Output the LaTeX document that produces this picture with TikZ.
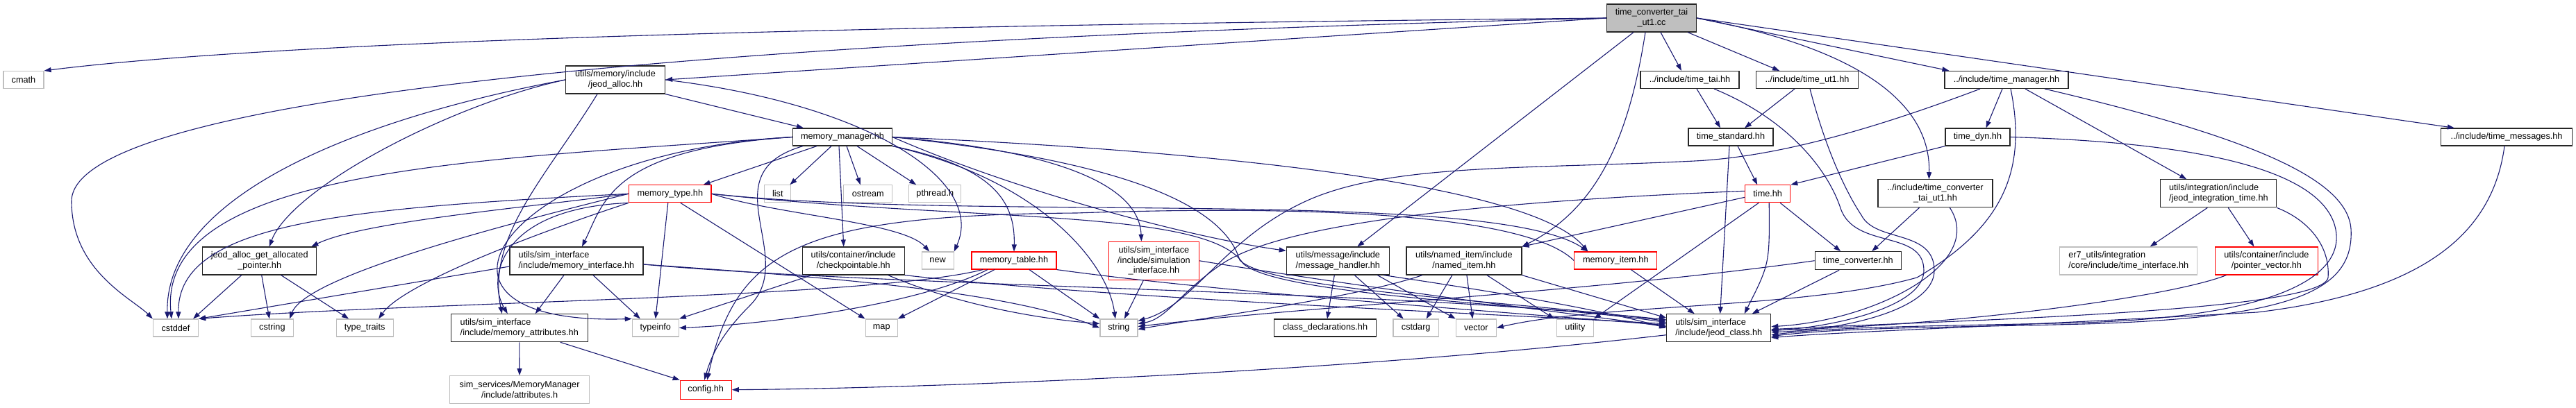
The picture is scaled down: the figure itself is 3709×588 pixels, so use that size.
\documentclass[tikz,border=0pt]{standalone}
\usepackage{fontspec}
\setmainfont{Liberation Sans}
\usetikzlibrary{arrows.meta}
\definecolor{edgeblue}{HTML}{191970}
\definecolor{rootfill}{HTML}{BFBFBF}
\definecolor{sysgray}{HTML}{BFBFBF}
\newcommand{\depfont}{\fontsize{12.7pt}{14.7pt}\selectfont}

\begin{document}
\begin{tikzpicture}[
        x=1pt, y=1pt,
        every node/.style={draw, rectangle, inner sep=0pt, align=center, font=\depfont, line width=1.2pt},
        box/.style 2 args={minimum width=#1pt, minimum height=#2pt},
        blackn/.style={draw=black!85},
        redn/.style={draw=red},
        grayn/.style={draw=sysgray},
        rootn/.style={draw=black!85, fill=rootfill},
        dep/.style={draw=edgeblue, line width=1.1pt, -{Triangle[length=10pt,width=7pt]}},
    ]
    \useasboundingbox (0,0) rectangle (3709,-588);

    % level 0 and 1
    \node[rootn, box={129}{40}] (root) at (2378,-26) {time\_converter\_tai\\\_ut1.cc};
    \node[grayn, box={58}{25}] (cmath) at (34,-115) {cmath};
    \node[blackn, box={143}{40}] (jeodalloc) at (886,-115) {utils/memory/include\\/jeod\_alloc.hh};
    \node[blackn, box={142}{25}] (tai) at (2433,-115) {../include/time\_tai.hh};
    \node[blackn, box={147}{25}] (ut1) at (2602,-115) {../include/time\_ut1.hh};
    \node[blackn, box={178}{25}] (tman) at (2889,-115) {../include/time\_manager.hh};

    % level 2
    \node[blackn, box={143}{25}] (memmgr) at (1213,-197.5) {memory\_manager.hh};
    \node[blackn, box={122}{25}] (tstd) at (2492,-197.5) {time\_standard.hh};
    \node[blackn, box={93}{25}] (tdyn) at (2847.5,-197.5) {time\_dyn.hh};
    \node[blackn, box={189}{25}] (tmsg) at (3609,-197.5) {../include/time\_messages.hh};

    % level 3
    \node[redn, box={118.5}{25}] (memtype) at (964.8,-279.3) {memory\_type.hh};
    \node[grayn, box={38}{25}] (list) at (1119.8,-279.3) {list};
    \node[grayn, box={70}{25}] (ostream) at (1249.8,-279.3) {ostream};
    \node[grayn, box={75}{25}] (pthread) at (1346.3,-279.3) {pthread.h};
    \node[redn, box={65}{25}] (timehh) at (2545.2,-279.3) {time.hh};
    \node[blackn, box={165}{40}] (tcth) at (2786.4,-278.8) {../include/time\_converter\\\_tai\_ut1.hh};
    \node[blackn, box={167}{40}, align=left] (jit) at (3194.3,-278.8) {utils/integration/include\\/jeod\_integration\_time.hh};

    % level 4
    \node[blackn, box={164}{40}] (jagap) at (373.7,-376) {jeod\_alloc\_get\_allocated\\\_pointer.hh};
    \node[blackn, box={192}{40}, align=left] (memif) at (830,-376) {utils/sim\_interface\\/include/memory\_interface.hh};
    \node[blackn, box={147}{40}] (ckpt) at (1228.7,-376) {utils/container/include\\/checkpointable.hh};
    \node[grayn, box={46}{25}] (new) at (1350.1,-375.5) {new};
    \node[redn, box={122}{25}] (memtab) at (1460,-375.5) {memory\_table.hh};
    \node[redn, box={130}{55}] (siminf) at (1661.4,-375.8) {utils/sim\_interface\\/include/simulation\\\_interface.hh};
    \node[blackn, box={148}{40}] (msgh) at (1926.3,-376) {utils/message/include\\/message\_handler.hh};
    \node[blackn, box={166}{40}] (nitem) at (2107.9,-376) {utils/named\_item/include\\/named\_item.hh};
    \node[redn, box={119}{25}] (memitem) at (2326.3,-375.5) {memory\_item.hh};
    \node[blackn, box={124}{26}] (tconv) at (2675.2,-375.7) {time\_converter.hh};
    \node[grayn, box={198}{40}, align=left] (er7) at (3064.7,-376) {er7\_utils/integration\\/core/include/time\_interface.hh};
    \node[redn, box={148}{40}] (ptrvec) at (3263.4,-376) {utils/container/include\\/pointer\_vector.hh};

    % level 5
    \node[grayn, box={65}{25}] (cstddef) at (253,-472.5) {cstddef};
    \node[grayn, box={61}{25}] (cstring) at (391.9,-472.5) {cstring};
    \node[grayn, box={82}{25}] (typetraits) at (525.1,-472.5) {type\_traits};
    \node[blackn, box={197}{40}, align=left] (memattr) at (747.8,-472.7) {utils/sim\_interface\\/include/memory\_attributes.hh};
    \node[grayn, box={67}{25}] (typeinfo) at (943.8,-472.5) {typeinfo};
    \node[grayn, box={46}{25}] (map) at (1269.2,-472.5) {map};
    \node[grayn, box={54}{25}] (string) at (1610.9,-472.5) {string};
    \node[blackn, box={147.5}{25}] (classdecl) at (1908,-472.5) {class\_declarations.hh};
    \node[grayn, box={65.5}{25}] (cstdarg) at (2038.7,-472.5) {cstdarg};
    \node[grayn, box={58}{25}] (vector) at (2125.3,-472.5) {vector};
    \node[grayn, box={53}{25}] (utility) at (2267.9,-472.5) {utility};
    \node[blackn, box={150}{40}, align=left] (jclass) at (2474.7,-472.7) {utils/sim\_interface\\/include/jeod\_class.hh};

    % level 6
    \node[grayn, box={201}{40}] (attrh) at (748.1,-561.7) {sim\_services/MemoryManager\\/include/attributes.h};
    \node[redn, box={74}{27}] (config) at (1016.2,-561.7) {config.hh};

    % edges from the source file
    \draw[dep] (root.west) .. controls +(-1200,-12) and +(320,40) .. (cmath.north east);
    \draw[dep] (root.west) .. controls (900,-60) and (103,-150) .. (103,-290) .. controls (103,-390) and (190,-430) .. (cstddef.north west);
    \draw[dep] (root.west) -- (jeodalloc.east);
    \draw[dep] ([xshift=13]root.south) -- ([xshift=-12]tai.north);
    \draw[dep] ([xshift=-13]root.south east) -- ([xshift=-40]ut1.north);
    \draw[dep] (root.east) -- ([xshift=7]tman.north west);
    \draw[dep] (root.east) -- ([xshift=20]tmsg.north west);
    \draw[dep] (root.east) .. controls (2680,-70) and (2780,-150) .. ([xshift=-9]tcth.north);
    \draw[dep] ([xshift=-26]root.south) -- ([xshift=28]msgh.north);
    \draw[dep] ([xshift=-9]root.south) .. controls (2345,-200) and (2300,-300) .. (nitem.north east);

    % jeod_alloc.hh
    \draw[dep] (jeodalloc.south east) -- ([xshift=16]memmgr.north west);
    \draw[dep] (jeodalloc.west) .. controls (650,-150) and (420,-270) .. ([xshift=14]jagap.north);
    \draw[dep] (jeodalloc.west) .. controls (520,-170) and (238,-280) .. ([xshift=-12]cstddef.north);
    \draw[dep] ([xshift=-26]jeodalloc.south) .. controls (790,-250) and (700,-340) .. ([xshift=-25]memattr.north);
    \draw[dep] (jeodalloc.east) .. controls (1250,-150) and (1420,-260) .. (new.north east);

    % memory_manager.hh
    \draw[dep] ([xshift=-37]memmgr.south) -- ([xshift=-12]memtype.north east);
    \draw[dep] ([xshift=-16]memmgr.south) -- ([xshift=-2]list.north east);
    \draw[dep] ([xshift=6]memmgr.south) -- ([xshift=-11]ostream.north);
    \draw[dep] ([xshift=21]memmgr.south) -- ([xshift=11]pthread.north west);
    \draw[dep] ([xshift=-5]memmgr.south) -- ([xshift=-14]ckpt.north);
    \draw[dep] (memmgr.south east) .. controls (1430,-240) and (1462,-290) .. (memtab.north);
    \draw[dep] (memmgr.east) .. controls (1500,-215) and (1640,-260) .. ([xshift=-18]siminf.north);
    \draw[dep] (memmgr.east) .. controls (1450,-270) and (1700,-340) .. ([yshift=-6]msgh.north west);
    \draw[dep] (memmgr.east) .. controls (1700,-215) and (2200,-260) .. ([xshift=-40]memitem.north);
    \draw[dep] (memmgr.east) .. controls (1600,-230) and (1760,-290) .. (1785,-375) .. controls (1830,-420) and (2200,-435) .. ([yshift=10]jclass.west);
    \draw[dep] (memmgr.west) .. controls (700,-230) and (225,-240) .. ([xshift=-6]cstddef.north);
    \draw[dep] (memmgr.west) .. controls (720,-220) and (560,-470) .. (typeinfo.north west);
    \draw[dep] (memmgr.west) .. controls (880,-215) and (870,-290) .. ([xshift=8]memif.north);
    \draw[dep] (memmgr.south east) .. controls (1500,-260) and (1595,-380) .. ([xshift=-5]string.north);
    \draw[dep] ([xshift=-57]memmgr.south) .. controls (1020,-250) and (1150,-370) .. (1080,-440) .. controls (1040,-480) and (1025,-510) .. ([xshift=-2]config.north);

    % memory_type.hh
    \draw[dep] (memtype.west) .. controls (750,-300) and (520,-320) .. ([xshift=-8]jagap.north east);
    \draw[dep] (memtype.west) .. controls (500,-300) and (255,-320) .. ([xshift=4]cstddef.north);
    \draw[dep] (memtype.west) .. controls (700,-330) and (440,-400) .. ([xshift=-6]cstring.north east);
    \draw[dep] (memtype.south west) .. controls (760,-340) and (580,-410) .. ([xshift=20]typetraits.north);
    \draw[dep] (memtype.south west) .. controls (720,-300) and (700,-400) .. ([xshift=-17]memattr.north);
    \draw[dep] ([xshift=-3]memtype.south) -- (typeinfo.north);
    \draw[dep] ([xshift=15]memtype.south) -- (map.north west);
    \draw[dep] (memtype.east) .. controls (1120,-310) and (1300,-320) .. ([xshift=-12]new.north);
    \draw[dep] (memtype.east) .. controls (1400,-320) and (2150,-270) .. ([xshift=-40]memitem.north);
    \draw[dep] (memtype.east) .. controls (1400,-320) and (1740,-300) .. (1790,-380) .. controls (1840,-425) and (2200,-440) .. ([yshift=12]jclass.west);

    % jeod_alloc_get_allocated_pointer.hh
    \draw[dep] ([xshift=-26]jagap.south) -- ([xshift=-8]cstddef.north east);
    \draw[dep] ([xshift=3]jagap.south) -- ([xshift=-4]cstring.north);
    \draw[dep] ([xshift=31]jagap.south) -- ([xshift=-23]typetraits.north);

    % memory_interface.hh
    \draw[dep] ([yshift=-8]memif.west) -- (cstddef.north east);
    \draw[dep] ([xshift=-18]memif.south) -- ([xshift=23]memattr.north);
    \draw[dep] ([xshift=24]memif.south) -- ([xshift=-22]typeinfo.north);
    \draw[dep] ([yshift=-5]memif.east) .. controls (1200,-400) and (1450,-420) .. (string.west);
    \draw[dep] ([yshift=-5]memif.east) .. controls (1300,-415) and (2100,-420) .. ([yshift=8]jclass.west);

    % checkpointable.hh
    \draw[dep] ([xshift=-60]ckpt.south) -- (typeinfo.north east);
    \draw[dep] ([xshift=50]ckpt.south) .. controls (1380,-440) and (1500,-460) .. ([yshift=6]string.west);
    \draw[dep] (ckpt.south east) .. controls (1600,-430) and (2100,-450) .. ([yshift=6]jclass.west);

    % memory_table.hh
    \draw[dep] ([xshift=-28]memtab.south) -- (map.north east);
    \draw[dep] ([xshift=22]memtab.south) -- (string.north west);
    \draw[dep] ([xshift=-38]memtab.south) .. controls (1320,-440) and (1100,-468) .. (typeinfo.east);
    \draw[dep] ([xshift=-45]memtab.south) .. controls (1250,-430) and (600,-435) .. (cstddef.north east);
    \draw[dep] (memtab.south east) .. controls (1750,-420) and (2100,-445) .. ([yshift=4]jclass.west);

    % simulation_interface.hh, message_handler.hh, named_item.hh, memory_item.hh
    \draw[dep] ([xshift=-15]siminf.south) -- ([xshift=8]string.north);
    \draw[dep] (siminf.east) .. controls (2000,-420) and (2250,-450) .. ([yshift=2]jclass.west);
    \draw[dep] ([xshift=-5]msgh.south) -- ([xshift=3]classdecl.north);
    \draw[dep] ([xshift=24]msgh.south) -- ([xshift=-18]cstdarg.north);
    \draw[dep] ([xshift=57]msgh.south) -- (vector.north west);
    \draw[dep] ([xshift=66]msgh.south) .. controls (2150,-420) and (2300,-445) .. (jclass.west);
    \draw[dep] ([xshift=-60]nitem.south) .. controls (1950,-430) and (1720,-460) .. ([yshift=-2]string.east);
    \draw[dep] ([xshift=-17]nitem.south) -- ([xshift=15]cstdarg.north);
    \draw[dep] ([xshift=4]nitem.south) -- ([xshift=-5]vector.north);
    \draw[dep] ([xshift=33]nitem.south) -- ([xshift=-3]utility.north west);
    \draw[dep] (nitem.south east) -- ([yshift=-6]jclass.north west);
    \draw[dep] ([xshift=22]memitem.south) -- ([xshift=-35]jclass.north);
    \draw[dep] (memitem.west) .. controls (2200,-310) and (1900,-295) .. (1550,-307) .. controls (1150,-310) and (1060,-360) .. ([xshift=2]config.north);

    % time headers
    \draw[dep] ([xshift=10]tai.south) -- ([xshift=-15]tstd.north);
    \draw[dep] ([xshift=-18]ut1.south) -- ([xshift=20]tstd.north);
    \draw[dep] ([xshift=35]tai.south) .. controls (2570,-170) and (2630,-240) .. (2650,-300) .. controls (2670,-360) and (2770,-330) .. (2770,-390) .. controls (2770,-440) and (2650,-470) .. ([yshift=-4]jclass.east);
    \draw[dep] ([xshift=4]ut1.south) .. controls (2630,-220) and (2660,-280) .. (2680,-310) .. controls (2700,-350) and (2785,-330) .. (2785,-390) .. controls (2785,-445) and (2660,-475) .. ([yshift=-6]jclass.east);
    \draw[dep] ([xshift=10]tstd.south) -- ([xshift=-15]timehh.north);
    \draw[dep] ([xshift=-2]tstd.south) -- ([xshift=2]jclass.north);
    \draw[dep] (tdyn.south west) -- (timehh.north east);
    \draw[dep] (tdyn.east) .. controls (3150,-205) and (3330,-240) .. (3360,-320) .. controls (3385,-390) and (3300,-455) .. (3000,-465) .. controls (2800,-470) and (2650,-470) .. ([yshift=-10]jclass.east);
    \draw[dep] ([xshift=-6]tman.south) -- ([xshift=12]tdyn.north);
    \draw[dep] ([xshift=27]tman.south) -- ([xshift=38]jit.north west);
    \draw[dep] ([xshift=-38]tman.south) .. controls (2700,-185) and (2560,-226) .. (2440,-232) .. controls (2200,-244) and (2000,-235) .. (1880,-290) .. controls (1760,-345) and (1720,-440) .. ([yshift=10]string.east);
    \draw[dep] ([xshift=6]tman.south) .. controls (2920,-250) and (2880,-330) .. (2760,-400) .. controls (2600,-445) and (2300,-438) .. (vector.east);
    \draw[dep] ([xshift=55]tman.south) .. controls (3250,-200) and (3380,-260) .. (3385,-330) .. controls (3390,-420) and (3300,-458) .. (3000,-467) .. controls (2800,-472) and (2650,-472) .. ([yshift=-12]jclass.east);
    \draw[dep] ([xshift=-3]tmsg.south) .. controls (3590,-330) and (3500,-420) .. (3250,-450) .. controls (2900,-470) and (2650,-478) .. ([yshift=-14]jclass.east);
    \draw[dep] ([xshift=-23]tcth.south) -- ([xshift=20]tconv.north);
    \draw[dep] ([xshift=21]tcth.south) .. controls (2860,-380) and (2700,-462) .. ([yshift=2]jclass.east);
    \draw[dep] ([xshift=18]timehh.south) -- ([xshift=-25]tconv.north);
    \draw[dep] ([xshift=2]timehh.south) .. controls (2548,-380) .. ([xshift=37]jclass.north);
    \draw[dep] ([xshift=-13]timehh.south) -- (utility.north east);
    \draw[dep] ([yshift=4]timehh.west) .. controls (2150,-290) and (1850,-320) .. (1760,-380) .. controls (1700,-420) and (1680,-460) .. ([yshift=6]string.east);
    \draw[dep] ([yshift=-5]timehh.west) -- (nitem.north east);
    \draw[dep] ([xshift=-27]tconv.south) -- ([xshift=48]jclass.north);
    \draw[dep] (tconv.west) .. controls (2300,-420) and (1900,-440) .. ([yshift=2]string.east);
    \draw[dep] ([xshift=-16]jit.south) -- ([xshift=31]er7.north);
    \draw[dep] ([xshift=14]jit.south) -- ([xshift=-18]ptrvec.north);
    \draw[dep] (jit.south east) .. controls (3330,-320) and (3355,-360) .. (3352,-400) .. controls (3345,-450) and (2800,-462) .. ([yshift=-2]jclass.east);
    \draw[dep] ([xshift=-58]ptrvec.south) .. controls (3120,-430) and (2800,-470) .. ([yshift=-3]jclass.east);

    % bottom row
    \draw[dep] ([yshift=-10]jclass.west) .. controls (1900,-540) and (1300,-560) .. (config.east);
    \draw[dep] (memattr.south) -- (attrh.north);
    \draw[dep] ([xshift=59]memattr.south) -- (config.north west);
\end{tikzpicture}
\end{document}
